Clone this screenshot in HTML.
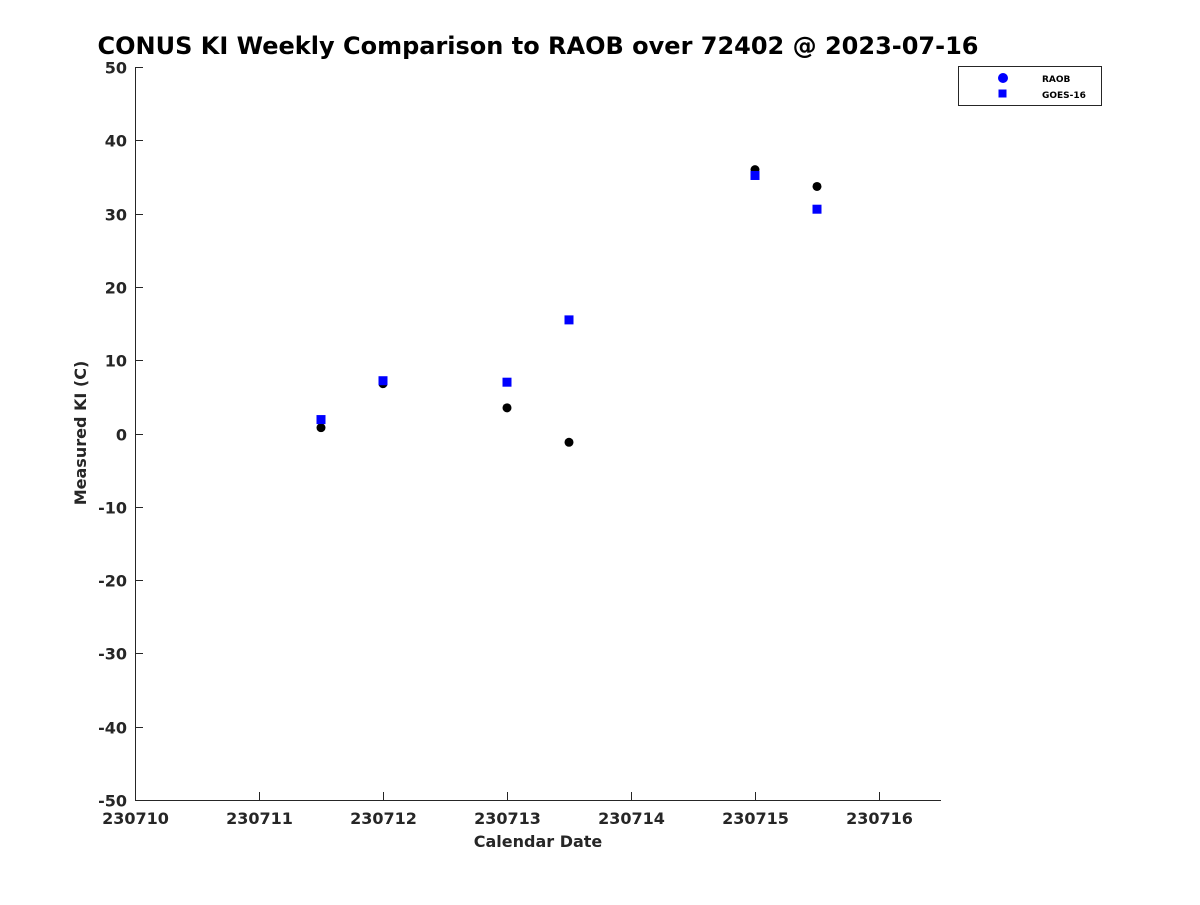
<!DOCTYPE html>
<html><head><meta charset="utf-8"><style>
body{margin:0;background:#fff}
text{font-family:"DejaVu Sans","Liberation Sans",sans-serif;font-weight:bold}
</style></head><body>
<svg id="chart" width="1200" height="900" xmlns="http://www.w3.org/2000/svg">
<rect width="1200" height="900" fill="#fff"/>
<text x="538" y="54" font-size="24" text-anchor="middle" fill="#000">CONUS KI Weekly Comparison to RAOB over 72402 @ 2023-07-16</text>
<g id="axes"></g>
<g id="marks"></g>
<text x="538" y="847" font-size="16" text-anchor="middle" fill="#262626">Calendar Date</text>
<text transform="translate(86,433) rotate(-90)" font-size="16" text-anchor="middle" fill="#262626">Measured KI (C)</text>
<g>
<rect x="958.5" y="66.5" width="143" height="39" fill="#fff" stroke="#262626"/>
<circle cx="1003" cy="78" r="5" fill="#0000ff"/>
<rect x="998.5" y="89.5" width="8" height="8" fill="#0000ff"/>
<text x="1042" y="82" font-size="9" fill="#000">RAOB</text>
<text x="1042" y="98" font-size="9" fill="#000">GOES-16</text>
</g>
</svg>
<script>
const dates=[230711.5,230712,230713,230713.5,230715,230715.5];
const raob=[0.8,6.8,3.5,-1.2,36.0,33.7];
const goes=[1.9,7.2,7.0,15.5,35.2,30.6];
const xTicks=[230710,230711,230712,230713,230714,230715,230716];
const yTicks=[50,40,30,20,10,0,-10,-20,-30,-40,-50];
const X0=135,X1=941,D0=230710,D1=230716.5;
const Y0=800,Y1=67,V0=-50,V1=50;
const xs=d=>X0+(d-D0)/(D1-D0)*(X1-X0);
const ys=v=>Y0-(v-V0)/(V1-V0)*(Y0-Y1);
const NS="http://www.w3.org/2000/svg";
const ax=document.getElementById('axes'),mk=document.getElementById('marks');
function mkEl(t,a,p){const e=document.createElementNS(NS,t);for(const k in a)e.setAttribute(k,a[k]);p.appendChild(e);return e;}
let l=mkEl('path',{d:`M${X0+.5},${Y1} V${Y0+.5} H${X1}`,stroke:'#262626',fill:'none'},ax);


xTicks.forEach(t=>{const x=Math.round(xs(t))+.5;
 const tk=mkEl('line',{x1:x,x2:x,y1:Y0,y2:Y0-8,stroke:'#262626'},ax);
 
 
 const tx=mkEl('text',{x:x,y:Y0+24,'font-size':16,'text-anchor':'middle',fill:'#262626'},ax);
 tx.textContent=t;
 
 });
yTicks.forEach(t=>{const y=Math.round(ys(t))+.5;
 const tk=mkEl('line',{x1:X0,x2:X0+8,y1:y,y2:y,stroke:'#262626'},ax);
 
 
 const tx=mkEl('text',{x:X0-8,y:y+6,'font-size':16,'text-anchor':'end',fill:'#262626'},ax);
 tx.textContent=t;
 
 });
dates.forEach((d,i)=>{
 const c=mkEl('circle',{cx:xs(d),cy:ys(raob[i]),r:4.5,fill:'#000'},mk);
 
 });
dates.forEach((d,i)=>{
 const s=mkEl('rect',{x:xs(d)-4.5,y:ys(goes[i])-4.5,width:9,height:9,fill:'#0000ff'},mk);
 
 });
</script>
</body></html>
